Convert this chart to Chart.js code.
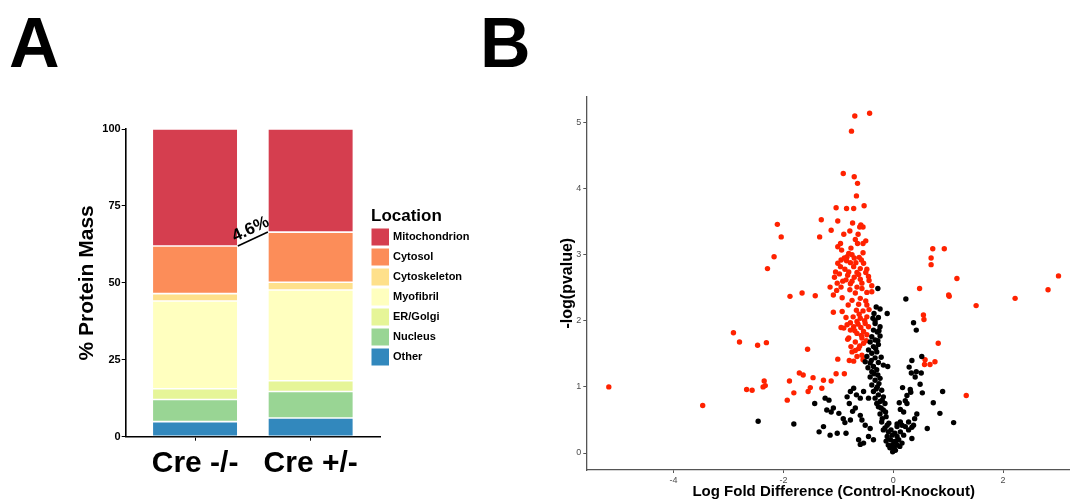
<!DOCTYPE html>
<html><head><meta charset="utf-8">
<script src="https://cdn.jsdelivr.net/npm/chart.js@4"></script>
<style>
html,body{margin:0;padding:0;width:1070px;height:501px;overflow:hidden;background:#fff;}
.lbl{position:absolute;font:bold 70px "Liberation Sans",Arial,sans-serif;line-height:70px;color:#000;}
#wa{position:absolute;left:0;top:0;width:540px;height:501px;}
#wb{position:absolute;left:540px;top:0;width:545px;height:501px;}
</style></head><body>
<div class="lbl" style="left:9px;top:8px">A</div>
<div class="lbl" style="left:480px;top:8px">B</div>
<div id="wa"><canvas id="ca" width="540" height="501"></canvas></div>
<div id="wb"><canvas id="cb" width="545" height="501"></canvas></div>
<script>
// ---------- Panel A data ----------
const categories = ['Cre -/-', 'Cre +/-'];
const locations = ['Other', 'Nucleus', 'ER/Golgi', 'Myofibril', 'Cytoskeleton', 'Cytosol', 'Mitochondrion'];
const other = [4.9, 6.1];
const nucleus = [7.2, 8.6];
const erGolgi = [3.5, 3.5];
const myofibril = [28.5, 29.5];
const cytoskeleton = [2.4, 2.5];
const cytosol = [15.5, 16.3];
const mitochondrion = [38.0, 33.5];
const yTicksA = [0, 25, 50, 75, 100];
const changeLabel = '4.6%';

// ---------- Panel B data ([log fold difference, -log(pvalue)]) ----------
const significant = [
[-0.43,5.14],[-0.70,5.10],[-0.76,4.87],[-0.91,4.23],[-0.71,4.18],[-0.65,4.08],[-0.67,3.89],[-0.53,3.74],[-1.04,3.71],[-0.85,3.70],[-0.72,3.70],
[-1.31,3.53],[-1.01,3.51],[-0.74,3.48],[-0.59,3.45],[-0.55,3.42],[-0.61,3.42],[-1.13,3.37],[-0.79,3.36],[-0.90,3.31],[-0.64,3.31],[-1.34,3.27],[-0.69,3.23],[-0.50,3.21],[-0.55,3.17],[-0.96,3.17],[-1.01,3.12],[-0.94,3.07],[-0.65,3.17],[-0.55,3.03],[-0.81,3.02],[-0.75,3.00],[-0.84,2.97],[-0.71,2.95],[-0.95,2.92],[-0.85,2.91],[-0.62,2.96],[-1.01,2.87],[-0.78,2.88],[-0.54,2.87],[-1.05,2.74],[-0.96,2.82],[-0.72,2.82],[-0.60,2.79],[-0.48,2.78],[-0.98,2.71],[-0.81,2.74],[-0.66,2.73],[-0.50,2.73],[-1.07,2.66],[-0.86,2.62],[-0.71,2.66],[-0.60,2.63],[-0.44,2.61],[-1.02,2.57],[-0.78,2.56],[-0.57,2.57],[-1.15,2.51],[-0.95,2.51],[-0.66,2.51],[-0.39,2.53],
[-0.88,2.78],[-0.83,2.69],[-0.92,2.60],[-0.68,2.88],[-0.75,2.60],[-0.63,2.70],[-0.89,2.95],[-0.77,3.10],[-0.58,2.92],[-0.45,2.67],
[-1.66,2.42],[-1.42,2.38],[-1.03,2.46],[-0.79,2.47],[-0.69,2.42],[-0.57,2.49],[-0.48,2.43],[-0.39,2.44],[-1.09,2.39],[-0.93,2.35],[-0.60,2.34],[-0.75,2.31],[-0.50,2.30],[-0.82,2.24],[-0.63,2.25],[-0.48,2.24],[-1.09,2.13],[-0.93,2.14],[-0.67,2.16],[-0.55,2.15],[-0.44,2.17],[-0.73,2.06],[-0.60,2.04],[-0.48,2.06],[-0.66,1.99],[-0.51,1.96],[-0.84,1.94],[-0.72,1.91],[-0.59,1.90],[-0.45,1.91],[-0.90,1.89],[-0.78,1.86],[-0.54,1.84],[-0.66,1.81],[-0.48,1.79],[-0.57,1.74],[-0.81,1.74],[-0.69,1.68],[-0.54,1.66],[-1.56,1.57],[-0.63,1.58],[-0.75,1.53],[-0.57,1.48],[-0.66,1.46],[-1.01,1.42],[-0.72,1.39],[-0.55,1.41],
[-0.62,2.10],[-0.70,1.85],[-0.52,2.00],[-0.64,1.95],[-0.58,1.78],[-0.49,1.70],[-0.61,1.62],[-0.86,2.05],[-0.95,1.90],[-0.78,1.97],
[-0.83,1.72],[-0.77,1.61],[-0.69,1.55],[-0.80,1.40],
[-1.27,1.10],[-1.13,1.09],[-1.04,1.20],[-0.89,1.20],[-1.30,0.98],
[-1.55,0.93],[-1.51,0.99],[-1.46,1.14],
[-2.11,3.46],[-2.04,3.27],[-2.17,2.97],[-2.29,2.79],[-1.88,2.37],[-2.91,1.82],[-2.80,1.68],[-2.47,1.63],[-2.31,1.67],[-1.71,1.21],[-1.64,1.18],[-2.35,1.09],[-1.89,1.09],[-2.67,0.96],[-2.57,0.95],[-2.37,1.00],[-2.33,1.02],[-1.81,0.91],[-1.93,0.80],[-3.47,0.72],[-5.18,1.00],
[0.72,3.09],[0.93,3.09],[0.69,2.95],[0.69,2.85],[1.16,2.64],[3.01,2.68],[0.48,2.49],[1.01,2.39],[1.02,2.37],[2.82,2.47],[2.22,2.34],[1.51,2.23],[0.55,2.09],[0.56,2.02],[0.82,1.66],[0.58,1.41],[0.57,1.34],[0.67,1.34],[0.76,1.38],[1.33,0.87]
];
const notSignificant = [
[-0.28,2.49],[-0.31,2.21],[-0.24,2.18],[-0.11,2.11],[-0.35,2.11],[-0.37,2.04],[-0.27,2.05],[-0.33,1.96],[-0.24,1.91],[-0.36,1.86],[-0.29,1.83],[-0.39,1.76],[-0.24,1.77],[-0.33,1.71],[-0.42,1.68],[-0.27,1.64],[-0.36,1.61],[-0.45,1.56],[-0.30,1.53],[-0.39,1.51],[-0.48,1.46],[-0.33,1.44],[-0.51,1.38],[-0.42,1.36],[-0.27,1.37],[-0.18,1.33],[-0.10,1.31],[-0.36,1.31],
[-0.46,1.29],[-0.39,1.23],[-0.30,1.26],[-0.42,1.15],[-0.33,1.10],[-0.24,1.13],[-0.39,1.03],[-0.29,1.00],[-0.21,0.95],[-0.36,0.93],[-0.27,0.88],[-0.18,0.85],[-0.33,0.83],[-0.24,0.78],[-0.15,0.75],[-0.27,0.70],[-0.18,0.65],[-0.24,0.59],[-0.13,0.55],[-0.21,0.47],[-0.11,0.42],[-0.18,0.35],[-0.09,0.32],[-0.02,0.27],[-0.11,0.25],[-0.05,0.20],[0.01,0.17],[-0.02,0.12],[0.02,0.07],[-0.01,0.02],[0.07,0.25],[0.10,0.20],[0.13,0.32],[0.19,0.27],[0.16,0.15],[0.07,0.40],[0.22,0.40],[0.28,0.35],[0.34,0.22],[0.37,0.42],[0.13,0.47],[0.07,0.12],[-0.09,0.12],
[-0.35,1.20],[-0.26,1.05],[-0.31,0.97],[-0.20,0.80],[-0.30,0.75],[-0.22,0.68],[-0.14,0.62],[-0.20,0.52],[-0.08,0.45],[-0.15,0.38],[-0.04,0.35],[0.03,0.30],[-0.06,0.08],[0.04,0.04],[0.00,0.10],[0.05,0.18],[-0.13,0.18],[0.12,0.10],[-0.40,1.40],[-0.28,1.18],[-0.22,1.45],[-0.32,1.58],[-0.26,1.85],[-0.33,2.00],[-0.28,1.70],
[-0.72,0.98],[-0.78,0.93],[-0.67,0.88],[-0.84,0.85],[-1.24,0.83],[-1.09,0.68],[-1.21,0.65],[-0.91,0.52],[-0.78,0.50],[-0.60,0.57],[-0.57,0.50],[-0.51,0.42],[-0.42,0.37],[-0.45,0.25],[-0.36,0.20],[-0.54,0.15],[-0.63,0.20],[-1.02,0.30],[-1.15,0.27],[-1.27,0.40],[-0.69,0.68],[-0.45,0.83],[-0.60,0.83],[-0.54,0.93],
[-2.46,0.48],[-1.81,0.44],[-1.43,0.75],[-1.35,0.32],[-1.17,0.80],[-1.13,0.62],[-0.88,0.46],[-0.86,0.30],[-0.74,0.63],[-0.60,0.13],[-0.80,0.75],[-0.99,0.60],
[0.23,2.33],[0.37,1.97],[0.42,1.86],[0.52,1.46],[0.34,1.40],[0.29,1.30],[0.33,1.21],[0.42,1.23],[0.51,1.21],[0.49,1.04],[0.17,0.99],[0.31,0.96],[0.32,0.92],[0.53,0.91],[0.90,0.93],[0.25,0.87],[0.11,0.76],[0.22,0.79],[0.25,0.75],[0.73,0.76],[0.13,0.66],[0.19,0.62],[0.43,0.59],[0.39,0.52],[0.85,0.60],[1.10,0.46],[0.28,0.47],[0.07,0.44],[0.16,0.42],[0.34,0.39],[0.62,0.37],[0.40,1.15]
];
const xTicksB = [-4, -2, 0, 2];
const yTicksB = [0, 1, 2, 3, 4, 5];

// ---------- styling ----------
const F = '"Liberation Sans", Arial, sans-serif';
Chart.defaults.font.family = F;
const seriesA = [other, nucleus, erGolgi, myofibril, cytoskeleton, cytosol, mitochondrion];
const colorsA = ['#3288BD', '#99D594', '#E6F598', '#FFFFBF', '#FEE08B', '#FC8D59', '#D53E4F'];

const legendPlugin = {
  id: 'legendA',
  afterDraw(chart) {
    const ctx = chart.ctx;
    ctx.save();
    ctx.fillStyle = '#000';
    ctx.font = 'bold 17px ' + F;
    ctx.textAlign = 'left';
    ctx.textBaseline = 'alphabetic';
    ctx.fillText('Location', 371, 221);
    const ds = chart.data.datasets.slice().reverse();
    ds.forEach((d, i) => {
      const y = 228.5 + i * 20;
      ctx.fillStyle = d.backgroundColor;
      ctx.fillRect(371.5, y, 17.5, 17);
      ctx.fillStyle = '#000';
      ctx.font = 'bold 11px ' + F;
      ctx.textBaseline = 'middle';
      ctx.fillText(d.label, 393, y + 8.8);
    });
    ctx.restore();
  }
};

const connectorPlugin = {
  id: 'connA',
  afterDatasetsDraw(chart) {
    const meta = chart.getDatasetMeta(locations.indexOf('Cytosol'));
    const a = meta.data[0], b = meta.data[1];
    const x1 = a.x + a.width / 2, y1 = a.y, x2 = b.x - b.width / 2, y2 = b.y;
    const ctx = chart.ctx;
    ctx.save();
    ctx.strokeStyle = '#000';
    ctx.lineWidth = 1.6;
    ctx.beginPath(); ctx.moveTo(x1, y1); ctx.lineTo(x2, y2); ctx.stroke();
    const ang = Math.atan2(y2 - y1, x2 - x1);
    const mx = (x1 + x2) / 2, my = (y1 + y2) / 2;
    ctx.translate(mx, my);
    ctx.rotate(ang);
    ctx.font = 'bold 17px ' + F;
    ctx.fillStyle = '#000';
    ctx.textAlign = 'center';
    ctx.textBaseline = 'alphabetic';
    ctx.fillText(changeLabel, 2, -5);
    ctx.restore();
  }
};

new Chart(document.getElementById('ca'), {
  type: 'bar',
  data: {
    datasets: locations.map((loc, i) => ({
      label: loc,
      data: seriesA[i].map((v, j) => ({ x: j + 1, y: v })),
      backgroundColor: colorsA[i],
      borderColor: '#ffffff',
      borderWidth: 0.8,
      borderSkipped: false,
      barPercentage: 0.74,
      categoryPercentage: 1
    }))
  },
  options: {
    responsive: false,
    animation: false,
    layout: { padding: { left: 0, top: 129, right: 160, bottom: 0 } },
    plugins: { legend: { display: false }, tooltip: { enabled: false } },
    scales: {
      x: {
        type: 'linear', min: 0.4, max: 2.6, stacked: true, offset: false,
        afterBuildTicks: s => { s.ticks = categories.map((c, i) => ({ value: i + 1 })); },
        ticks: {
          callback: v => categories[Math.round(v) - 1],
          font: { size: 30, weight: 'bold' }, color: '#000', padding: 5,
          maxRotation: 0, autoSkip: false
        },
        grid: { offset: false, drawOnChartArea: false, tickLength: 4, color: '#000' },
        border: { display: true, color: '#000', width: 1.6 },
        afterFit: s => { s.height = 64.3; }
      },
      y: {
        stacked: true, min: 0, max: 100,
        afterBuildTicks: s => { s.ticks = yTicksA.map(v => ({ value: v })); },
        ticks: { font: { size: 11, weight: 'bold' }, color: '#000', padding: 1 },
        grid: { drawOnChartArea: false, tickLength: 4, color: '#000' },
        border: { display: true, color: '#000', width: 1.6 },
        title: { display: true, text: '% Protein Mass', font: { size: 21, weight: 'bold' }, color: '#000', padding: { top: 75, bottom: 0 } },
        afterFit: s => { s.width = 125.7; }
      }
    }
  },
  plugins: [legendPlugin, connectorPlugin]
});

new Chart(document.getElementById('cb'), {
  type: 'scatter',
  data: {
    datasets: [
      { label: 'Not significant', data: notSignificant.map(p => ({ x: p[0], y: p[1] })), backgroundColor: '#000000', borderWidth: 0, pointRadius: 2.7 },
      { label: 'Significant', data: significant.map(p => ({ x: p[0], y: p[1] })), backgroundColor: '#ff2200', borderWidth: 0, pointRadius: 2.7 }
    ]
  },
  options: {
    responsive: false,
    animation: false,
    layout: { padding: { left: 0, top: 96.3, right: 4, bottom: 0 } },
    plugins: { legend: { display: false }, tooltip: { enabled: false } },
    scales: {
      x: {
        type: 'linear', min: -5.59, max: 3.42,
        afterBuildTicks: s => { s.ticks = xTicksB.map(v => ({ value: v })); },
        ticks: { font: { size: 9 }, color: '#4d4d4d', padding: 2 },
        grid: { drawOnChartArea: false, tickLength: 3, color: '#555' },
        border: { display: true, color: '#555', width: 1.3 },
        title: { display: true, text: 'Log Fold Difference (Control-Knockout)', font: { size: 15, weight: 'bold' }, color: '#000', padding: { top: 0, bottom: 0 } },
        afterFit: s => { s.height = 31; }
      },
      y: {
        type: 'linear', min: -0.257, max: 5.397,
        afterBuildTicks: s => { s.ticks = yTicksB.map(v => ({ value: v })); },
        ticks: { font: { size: 9 }, color: '#4d4d4d', padding: 2 },
        grid: { drawOnChartArea: false, tickLength: 3, color: '#555' },
        border: { display: true, color: '#555', width: 1.3 },
        title: { display: true, text: '-log(pvalue)', font: { size: 16, weight: 'bold' }, color: '#000', padding: { top: 18, bottom: 0 } },
        afterFit: s => { s.width = 46.3; }
      }
    }
  }
});
</script>
</body></html>
